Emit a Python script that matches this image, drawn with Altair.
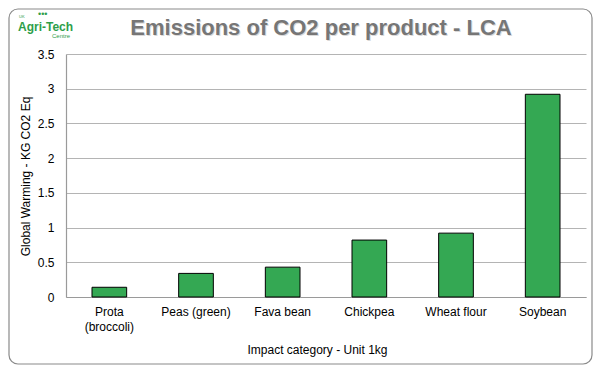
import altair as alt
import pandas as pd

categories = ["Prota\n(broccoli)", "Peas (green)", "Fava bean", "Chickpea", "Wheat flour", "Soybean"]
values = [0.14, 0.34, 0.43, 0.82, 0.92, 2.92]
y_ticks = [0, 0.5, 1, 1.5, 2, 2.5, 3, 3.5]

title_text = "Emissions of CO2 per product - LCA"
x_title = "Impact category - Unit 1kg"
y_title = "Global Warming - KG CO2 Eq"

df = pd.DataFrame({"cat": categories, "val": values})
one = alt.Data(values=[{"k": 1}])

W, H = 520, 243
FONT = "Liberation Sans"

x_enc = alt.X(
    "cat:N", sort=categories,
    scale=alt.Scale(paddingInner=0.6, paddingOuter=0.3),
    axis=alt.Axis(
        title=x_title, labelAngle=0, labelExpr="split(datum.label, '\\n')",
        labelFont=FONT, labelFontSize=12, labelColor="#000000", labelPadding=9,
        labelLineHeight=15,
        ticks=False, domainColor="#9a9a9a", domainWidth=1.2,
        titleFont=FONT, titleFontSize=12, titleFontWeight="normal", titleColor="#000000",
        titleX=251, titleY=52, titleBaseline="middle", titleAnchor="middle",
        grid=False,
    ),
)
y_enc = alt.Y(
    "val:Q",
    scale=alt.Scale(domain=[0, 3.5], nice=False),
    axis=alt.Axis(
        title=y_title, values=y_ticks, format="~g", labelFont=FONT, labelFontSize=12,
        labelColor="#000000", labelPadding=12, ticks=False,
        domainColor="#9a9a9a", domainWidth=1.2,
        gridColor="#b4b4b4", gridWidth=1,
        titleFont=FONT, titleFontSize=12, titleFontWeight="normal", titleColor="#000000",
        titleX=-41, titleY=122, titleBaseline="middle", titleAngle=-90,
    ),
)

bars = alt.Chart(df).mark_bar(
    color="#34a853", stroke="#000000", strokeWidth=1
).encode(x=x_enc, y=y_enc)

border = alt.Chart(one).mark_rect(
    fill=None, stroke="#8a8a8a", strokeWidth=1.2, cornerRadius=9, clip=False
).encode(
    x=alt.value(-57), x2=alt.value(W + 6), y=alt.value(-45), y2=alt.value(H + 67)
)

title_shadow = alt.Chart(one).mark_text(
    text=title_text, font=FONT, fontSize=22, fontWeight="bold", color="#d9d9d9",
    align="center", baseline="middle", clip=False
).encode(x=alt.value(256), y=alt.value(-25))

title = alt.Chart(one).mark_text(
    text=title_text, font=FONT, fontSize=22, fontWeight="bold", color="#767676",
    align="center", baseline="middle", clip=False
).encode(x=alt.value(255), y=alt.value(-26))

logo_main = alt.Chart(one).mark_text(
    text="Agri-Tech", font=FONT, fontSize=12, fontWeight="bold", color="#2e9e4a",
    align="left", baseline="middle", clip=False
).encode(x=alt.value(-48), y=alt.value(-27))

logo_sub = alt.Chart(one).mark_text(
    text="Centre", font=FONT, fontSize=6, color="#2e9e4a",
    align="left", baseline="middle", clip=False
).encode(x=alt.value(-14), y=alt.value(-18))

logo_uk = alt.Chart(one).mark_text(
    text="UK", font=FONT, fontSize=4, color="#2e9e4a",
    align="left", baseline="middle", clip=False
).encode(x=alt.value(-47), y=alt.value(-37))

logo_dots = alt.Chart(one).mark_text(
    text="\u2022\u2022\u2022", font=FONT, fontSize=9, color="#2e9e4a",
    align="left", baseline="middle", clip=False
).encode(x=alt.value(-28), y=alt.value(-40))

chart = alt.layer(
    bars, border, title_shadow, title, logo_main, logo_sub, logo_uk, logo_dots
).properties(
    width=W, height=H,
    autosize=alt.AutoSizeParams(type="none"),
    padding={"left": 58, "top": 46, "right": 7, "bottom": 68},
    background="white",
).configure_view(stroke=None)

chart.save("out.html", embed_options={"renderer": "svg", "actions": False})
